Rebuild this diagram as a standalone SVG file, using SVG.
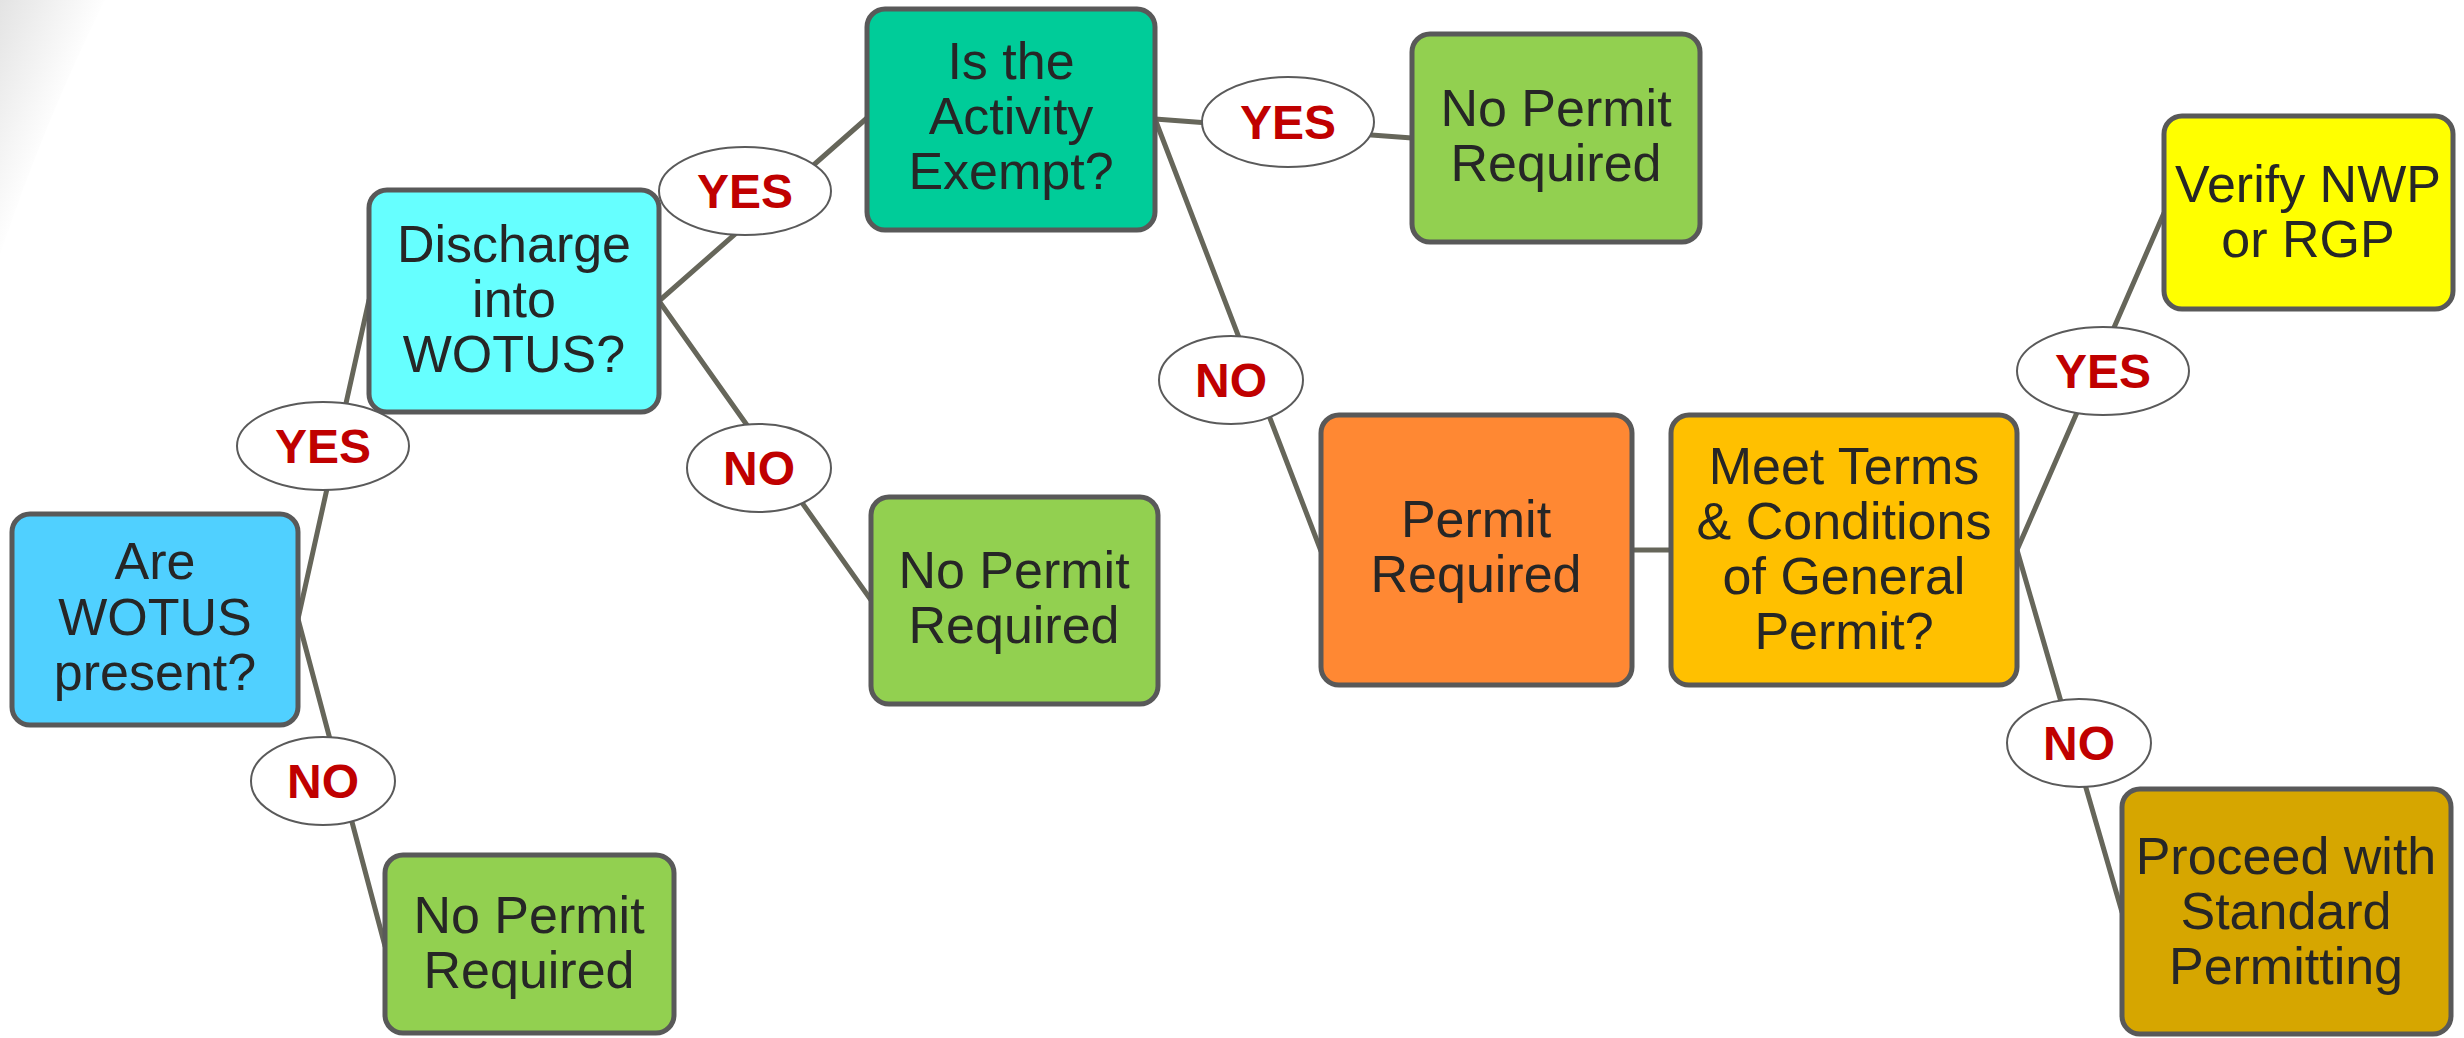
<svg xmlns="http://www.w3.org/2000/svg" width="2464" height="1038" viewBox="0 0 2464 1038">
<defs>
<linearGradient id="bgfade" gradientUnits="userSpaceOnUse" x1="0" y1="0" x2="92" y2="38">
<stop offset="0" stop-color="#e3e3e3"/>
<stop offset="1" stop-color="#ffffff"/>
</linearGradient>
</defs>
<style>
.box{stroke:#595959;stroke-width:5}
.t{font-family:"Liberation Sans",Arial,sans-serif;font-size:52px;fill:#262626;text-anchor:middle}
.conn line{stroke:#66665A;stroke-width:5;stroke-linecap:round}
.lbl ellipse{fill:#ffffff;stroke:#5a5a5a;stroke-width:2}
.lt{font-family:"Liberation Sans",Arial,sans-serif;font-size:48px;font-weight:bold;fill:#C00000;text-anchor:middle}
</style>
<rect x="0" y="0" width="2464" height="1038" fill="#ffffff"/>
<path d="M0 0 L105 0 Q45 120 0 255 Z" fill="url(#bgfade)"/>

<g id="connectors" class="conn">
<line x1="298" y1="619" x2="369" y2="300"/>
<line x1="298" y1="619" x2="385" y2="946"/>
<line x1="659" y1="301" x2="867" y2="118"/>
<line x1="659" y1="301" x2="871" y2="600"/>
<line x1="1155" y1="119" x2="1412" y2="138"/>
<line x1="1155" y1="119" x2="1321" y2="551"/>
<line x1="1632" y1="550" x2="1671" y2="550"/>
<line x1="2017" y1="550" x2="2164" y2="213"/>
<line x1="2017" y1="550" x2="2122" y2="912"/>
</g>

<g id="labels">
<g id="lbl-yes-1" class="lbl"><ellipse cx="323" cy="446" rx="86" ry="44"/><text class="lt" x="323" y="463">YES</text></g>
<g id="lbl-no-1" class="lbl"><ellipse cx="323" cy="781" rx="72" ry="44"/><text class="lt" x="323" y="798">NO</text></g>
<g id="lbl-yes-2" class="lbl"><ellipse cx="745" cy="191" rx="86" ry="44"/><text class="lt" x="745" y="208">YES</text></g>
<g id="lbl-no-2" class="lbl"><ellipse cx="759" cy="468" rx="72" ry="44"/><text class="lt" x="759" y="485">NO</text></g>
<g id="lbl-yes-3" class="lbl"><ellipse cx="1288" cy="122" rx="86" ry="45"/><text class="lt" x="1288" y="139">YES</text></g>
<g id="lbl-no-3" class="lbl"><ellipse cx="1231" cy="380" rx="72" ry="44"/><text class="lt" x="1231" y="397">NO</text></g>
<g id="lbl-yes-4" class="lbl"><ellipse cx="2103" cy="371" rx="86" ry="44"/><text class="lt" x="2103" y="388">YES</text></g>
<g id="lbl-no-4" class="lbl"><ellipse cx="2079" cy="743" rx="72" ry="44"/><text class="lt" x="2079" y="760">NO</text></g>
</g>

<g id="node-are-wotus">
<rect class="box" x="12" y="514" width="286" height="211" rx="18" fill="#50D0FF"/>
<text class="t" x="155" y="579">Are</text>
<text class="t" x="155" y="635">WOTUS</text>
<text class="t" x="155" y="690">present?</text>
</g>

<g id="node-discharge">
<rect class="box" x="369" y="190" width="290" height="222" rx="18" fill="#66FFFF"/>
<text class="t" x="514" y="262">Discharge</text>
<text class="t" x="514" y="317">into</text>
<text class="t" x="514" y="372">WOTUS?</text>
</g>

<g id="node-exempt">
<rect class="box" x="867" y="9" width="288" height="221" rx="18" fill="#00CC99"/>
<text class="t" x="1011" y="79">Is the</text>
<text class="t" x="1011" y="134">Activity</text>
<text class="t" x="1011" y="189">Exempt?</text>
</g>

<g id="node-no-permit-top">
<rect class="box" x="1412" y="34" width="288" height="208" rx="18" fill="#92D050"/>
<text class="t" x="1556" y="126">No Permit</text>
<text class="t" x="1556" y="181">Required</text>
</g>

<g id="node-no-permit-mid">
<rect class="box" x="871" y="497" width="287" height="207" rx="18" fill="#92D050"/>
<text class="t" x="1014" y="588">No Permit</text>
<text class="t" x="1014" y="643">Required</text>
</g>

<g id="node-no-permit-bottom">
<rect class="box" x="385" y="855" width="289" height="178" rx="18" fill="#92D050"/>
<text class="t" x="529" y="933">No Permit</text>
<text class="t" x="529" y="988">Required</text>
</g>

<g id="node-permit-required">
<rect class="box" x="1321" y="415" width="311" height="270" rx="18" fill="#FF8833"/>
<text class="t" x="1476" y="537">Permit</text>
<text class="t" x="1476" y="592">Required</text>
</g>

<g id="node-meet-terms">
<rect class="box" x="1671" y="415" width="346" height="270" rx="18" fill="#FFC000"/>
<text class="t" x="1844" y="484">Meet Terms</text>
<text class="t" x="1844" y="539">&amp; Conditions</text>
<text class="t" x="1844" y="594">of General</text>
<text class="t" x="1844" y="649">Permit?</text>
</g>

<g id="node-verify">
<rect class="box" x="2164" y="116" width="289" height="193" rx="18" fill="#FFFF00"/>
<text class="t" x="2308" y="202">Verify NWP</text>
<text class="t" x="2308" y="257">or RGP</text>
</g>

<g id="node-proceed">
<rect class="box" x="2122" y="789" width="329" height="245" rx="18" fill="#D6A600"/>
<text class="t" x="2286" y="874">Proceed with</text>
<text class="t" x="2286" y="984">Permitting</text>
<text class="t" x="2286" y="929">Standard</text>
</g>
</svg>
